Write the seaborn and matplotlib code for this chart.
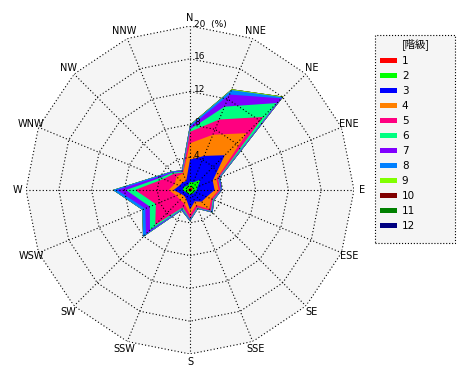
import numpy as np
import matplotlib
matplotlib.use('Agg')
import matplotlib.pyplot as plt
import seaborn as sns
from matplotlib.patches import Patch, Rectangle

# 16 wind directions, clockwise from north
directions = ['N', 'NNE', 'NE', 'ENE', 'E', 'ESE', 'SE', 'SSE',
              'S', 'SSW', 'SW', 'WSW', 'W', 'WNW', 'NW', 'NNW']
class_labels = ['1', '2', '3', '4', '5', '6', '7', '8', '9', '10', '11', '12']
class_colors = ['#ff0000', '#00ff00', '#0000ff', '#ff8000', '#ff0080', '#00ff80',
                '#8000ff', '#0080ff', '#80ff00', '#800000', '#008000', '#000080']
ring_ticks = [4, 8, 12, 16, 20]

# frequency (%) of each class per direction
f1 = [0.3, 0.3, 0.4, 0.3, 0.3, 0.2, 0.2, 0.2, 0.2, 0.2, 0.2, 0.2, 0.3, 0.2, 0.2, 0.2]
f2 = [0.7, 0.7, 1.4, 0.7, 0.5, 0.4, 0.4, 0.3, 0.4, 0.3, 0.3, 0.4, 0.6, 0.6, 0.5, 0.4]
f3 = [2.7, 3.5, 4.2, 2.0, 2.2, 1.6, 1.4, 1.0, 1.8, 0.7, 0.5, 0.6, 1.1, 0.6, 0.6, 0.6]
f4 = [2.0, 2.8, 3.8, 0.5, 0.5, 0.6, 1.3, 0.5, 0.6, 0.6, 0.7, 0.6, 0.6, 0.6, 1.0, 1.0]
f5 = [1.4, 2.0, 2.8, 0.2, 0.2, 0.2, 0.3, 0.3, 0.5, 0.5, 4.3, 2.7, 4.1, 1.5, 0.5, 0.1]
f6 = [0.3, 1.7, 2.4, 0.1, 0.05, 0.1, 0.1, 0.1, 0.1, 0.2, 0.9, 0.8, 1.1, 0.4, 0.2, 0.1]
f7 = [0.3, 1.6, 0.8, 0.1, 0.1, 0.05, 0.1, 0.05, 0.1, 0.1, 0.7, 0.6, 1.1, 0.3, 0.1, 0.1]
f8 = [0.2, 0.6, 0.2, 0.1, 0.05, 0.05, 0.1, 0.05, 0.1, 0.1, 0.5, 0.4, 0.5, 0.2, 0.1, 0.1]
f9 = [0.05, 0.1, 0.1, 0, 0, 0, 0, 0, 0, 0, 0, 0, 0, 0, 0, 0]
f10 = [0] * 16
f11 = [0] * 16
f12 = [0] * 16

sns.set_style('white')
plt.rcParams['font.family'] = ['DejaVu Sans', 'Noto Sans CJK JP']
plt.rcParams['text.color'] = 'black'
palette = sns.color_palette(class_colors)

fig = plt.figure(figsize=(4.7, 3.8), dpi=100)
ax = fig.add_axes([26/470, 26/380, 328/470, 328/380], projection='polar')
ax.set_theta_zero_location('N')
ax.set_theta_direction(-1)
ax.set_ylim(0, 20)
ax.set_xticks([])
ax.set_yticks([])
ax.grid(False)
ax.spines['polar'].set_visible(False)
ax.patch.set_alpha(0)

theta = np.deg2rad(np.arange(len(directions)) * 22.5)
tc = np.append(theta, theta[0])

# grey background inside the outer ring
ax.fill(tc, np.full(len(tc), ring_ticks[-1]), color='#f5f5f5', lw=0, zorder=0)

cum = np.cumsum(np.array([f1, f2, f3, f4, f5, f6, f7, f8, f9, f10, f11, f12]), axis=0)
for k in range(len(class_labels) - 1, -1, -1):
    r = np.append(cum[k], cum[k][0])
    ax.fill(tc, r, color=palette[k], lw=0, zorder=1)
handles = [Patch(facecolor=palette[k], edgecolor='none') for k in range(len(class_labels))]

# dotted polygon grid
for rr in ring_ticks:
    ax.plot(tc, np.full(len(tc), rr), color='black', lw=0.8, ls=(0, (1, 2)), zorder=3)
for t in theta:
    ax.plot([t, t], [0, ring_ticks[-1]], color='black', lw=0.8, ls=(0, (1, 2)), zorder=3)

for rr in ring_ticks:
    txt = str(rr) + ('  (%)' if rr == ring_ticks[-1] else '')
    ax.annotate(txt, (0, rr), xytext=(4, 2), textcoords='offset pixels',
                ha='left', va='center', fontsize=6.5, color='black', zorder=4)

for t, d in zip(theta, directions):
    ax.text(t, 21, d, ha='center', va='center', fontsize=7, color='black')

# legend box
fig.add_artist(Rectangle((375/470, 1 - 243/380), 80/470, 208/380, transform=fig.transFigure,
                         facecolor='#f5f5f5', edgecolor='black', ls=':', lw=0.8, zorder=-1))
fig.text(416/470, 1 - 44/380, '[階級]', ha='center', va='center', fontsize=7.5,
         color='black', family=['Noto Sans CJK JP', 'DejaVu Sans'])
fig.legend(handles, class_labels, loc='upper left', bbox_to_anchor=(380/470, 1 - 56/380),
           frameon=False, fontsize=7.5, labelcolor='black',
           handlelength=1.6, handleheight=0.4, handletextpad=0.5,
           labelspacing=0.48, borderpad=0, borderaxespad=0)

fig.savefig('out.png', dpi=100, facecolor='white')
